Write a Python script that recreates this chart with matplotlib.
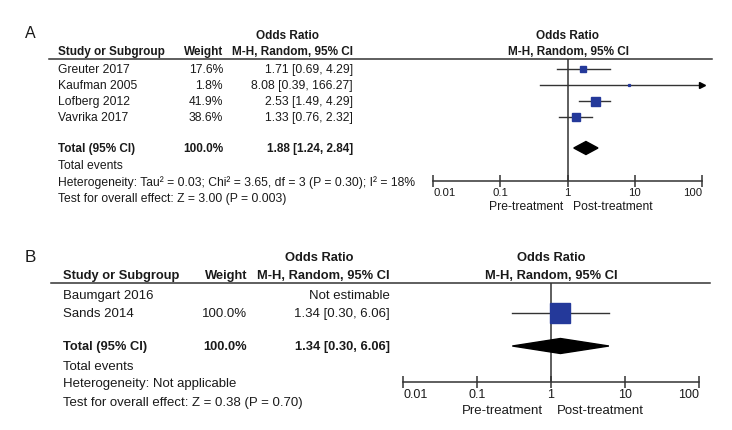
import matplotlib
matplotlib.use("Agg")
import matplotlib.pyplot as plt
import numpy as np

plt.rcParams['font.family'] = ['Liberation Sans', 'DejaVu Sans']

# panel A data
studies_a = ["Greuter 2017", "Kaufman 2005", "Lofberg 2012", "Vavrika 2017"]
weights_a = [17.6, 1.8, 41.9, 38.6]
or_a = [1.71, 8.08, 2.53, 1.33]
lo_a = [0.69, 0.39, 1.49, 0.76]
hi_a = [4.29, 166.27, 4.29, 2.32]
total_a = (1.88, 1.24, 2.84)
het_a = "Heterogeneity: Tau\u00b2 = 0.03; Chi\u00b2 = 3.65, df = 3 (P = 0.30); I\u00b2 = 18%"
test_a = "Test for overall effect: Z = 3.00 (P = 0.003)"

# panel B data
studies_b = ["Baumgart 2016", "Sands 2014"]
weights_b = [None, 100.0]
or_b = [None, 1.34]
lo_b = [None, 0.30]
hi_b = [None, 6.06]
total_b = (1.34, 0.30, 6.06)
het_b = "Heterogeneity: Not applicable"
test_b = "Test for overall effect: Z = 0.38 (P = 0.70)"

tick_vals = [0.01, 0.1, 1, 10, 100]
tick_labels = ["0.01", "0.1", "1", "10", "100"]

W, H = 732, 431
TXT = '#1a1a1a'
LINE = '#333333'
SQ = '#24399a'

fig = plt.figure(figsize=(W / 100, H / 100), dpi=100)


def t(x, y, s, size, ha='left', bold=False):
    fig.text(x / W, 1 - y / H, s, fontsize=size, ha=ha, va='center',
             color=TXT, fontweight='bold' if bold else 'normal')


def hline(x0, x1, y):
    fig.add_artist(plt.Line2D([x0 / W, x1 / W], [1 - y / H, 1 - y / H],
                              color=LINE, lw=1.1))


def panel(cfg):
    fb = cfg['fs']          # bold text size
    fs = fb * 1.03          # regular text size
    t(25, cfg['label_y'], cfg['label'], fb + 3)
    t(cfg['or_x'], cfg['h1'], "Odds Ratio", fb, ha='center', bold=True)
    t(cfg['name_x'], cfg['h2'], "Study or Subgroup", fb, bold=True)
    t(cfg['w_x'], cfg['h2'], "Weight", fb, ha='right', bold=True)
    t(cfg['ci_x'], cfg['h2'], "M-H, Random, 95% CI", fb, ha='right', bold=True)
    t(cfg['px'], cfg['h1'], "Odds Ratio", fb, ha='center', bold=True)
    t(cfg['px'], cfg['h2'], "M-H, Random, 95% CI", fb, ha='center', bold=True)
    hline(cfg['line_x0'], cfg['line_x1'], cfg['line_y'])

    for name, w, o, lo, hi, y in zip(cfg['studies'], cfg['weights'], cfg['or'],
                                     cfg['lo'], cfg['hi'], cfg['rows']):
        t(cfg['name_x'], y, name, fs)
        if o is None:
            t(cfg['ci_x'], y, "Not estimable", fs, ha='right')
            continue
        t(cfg['w_x'], y, "%.1f%%" % w, fs, ha='right')
        t(cfg['ci_x'], y, "%.2f [%.2f, %.2f]" % (o, lo, hi), fs, ha='right')

    est, tlo, thi = cfg['total']
    ty = cfg['total_y']
    t(cfg['name_x'], ty, "Total (95% CI)", fb, bold=True)
    t(cfg['w_x'], ty, "100.0%", fb, ha='right', bold=True)
    t(cfg['ci_x'], ty, "%.2f [%.2f, %.2f]" % (est, tlo, thi), fb, ha='right', bold=True)
    t(cfg['name_x'], cfg['foot'][0], "Total events", fs)
    t(cfg['name_x'], cfg['foot'][1], cfg['het'], fs)
    t(cfg['name_x'], cfg['foot'][2], cfg['test'], fs)

    # forest plot axes, y in figure pixel rows
    ax0, ax1, ay0, ay1 = cfg['ax_box']
    ax = fig.add_axes([ax0 / W, 1 - ay1 / H, (ax1 - ax0) / W, (ay1 - ay0) / H])
    ax.set_xscale('log')
    ax.set_xlim(0.01, 100)
    ax.set_ylim(ay1, ay0)
    ax.patch.set_alpha(0)
    for s in ['top', 'left', 'right']:
        ax.spines[s].set_visible(False)
    ax.spines['bottom'].set_color(LINE)
    ax.spines['bottom'].set_linewidth(1.1)
    ax.set_yticks([])
    ax.minorticks_off()
    ax.set_xticks(tick_vals)
    ax.set_xticklabels(tick_labels)
    ax.tick_params(axis='x', direction='inout', length=8, width=1.1, color=LINE,
                   labelsize=fb - 0.3, labelcolor=TXT, pad=0)
    labs = ax.get_xticklabels()
    labs[0].set_ha('left')
    labs[-1].set_ha('right')
    ax.axvline(1, color=LINE, lw=1.1, zorder=1)

    wmax = max(w for w in cfg['weights'] if w is not None)
    for w, o, lo, hi, y in zip(cfg['weights'], cfg['or'], cfg['lo'], cfg['hi'], cfg['rows']):
        if o is None:
            continue
        if hi > 100:
            ax.plot([lo, 100], [y, y], color=LINE, lw=1.0, clip_on=False)
            ax.plot([100], [y], marker='>', color='black', ms=4, clip_on=False)
        else:
            ax.plot([lo, hi], [y, y], color=LINE, lw=1.0)
        side = cfg['sq_max'] * np.sqrt(w / wmax)
        ax.plot([o], [y], marker='s', ls='none', color=SQ, mec=SQ,
                ms=side * 0.72, zorder=3)

    dh = cfg['dia_h'] / 2
    ax.fill([tlo, est, thi, est], [ty, ty - dh, ty, ty + dh], color='black', zorder=3)

    fig.text(cfg['pre_x'] / W, 1 - cfg['pre_y'] / H, "Pre-treatment", fontsize=fs,
             ha='right', va='center', color=TXT)
    fig.text(cfg['post_x'] / W, 1 - cfg['pre_y'] / H, "Post-treatment", fontsize=fs,
             ha='left', va='center', color=TXT)


panel(dict(fs=8.5, label="A", label_y=34, h1=36, h2=52, or_x=288, name_x=58,
           w_x=223, ci_x=353, px=568, line_x0=49, line_x1=712, line_y=60,
           studies=studies_a, weights=weights_a, lo=lo_a, hi=hi_a,
           rows=[70, 86, 102, 118], total=total_a, total_y=149,
           foot=[166, 183, 199], het=het_a, test=test_a,
           ax_box=(433, 702, 60, 182), sq_max=9, dia_h=13,
           pre_x=563, post_x=573, pre_y=207, **{'or': or_a}))

panel(dict(fs=9.3, label="B", label_y=258, h1=258, h2=276, or_x=319, name_x=63,
           w_x=247, ci_x=390, px=551, line_x0=51, line_x1=710, line_y=284,
           studies=studies_b, weights=weights_b, lo=lo_b, hi=hi_b,
           rows=[296, 314], total=total_b, total_y=347,
           foot=[367, 384, 403], het=het_b, test=test_b,
           ax_box=(403, 699, 284, 383), sq_max=20, dia_h=15,
           pre_x=543, post_x=557, pre_y=411, **{'or': or_b}))

fig.savefig("out.png", dpi=100)
